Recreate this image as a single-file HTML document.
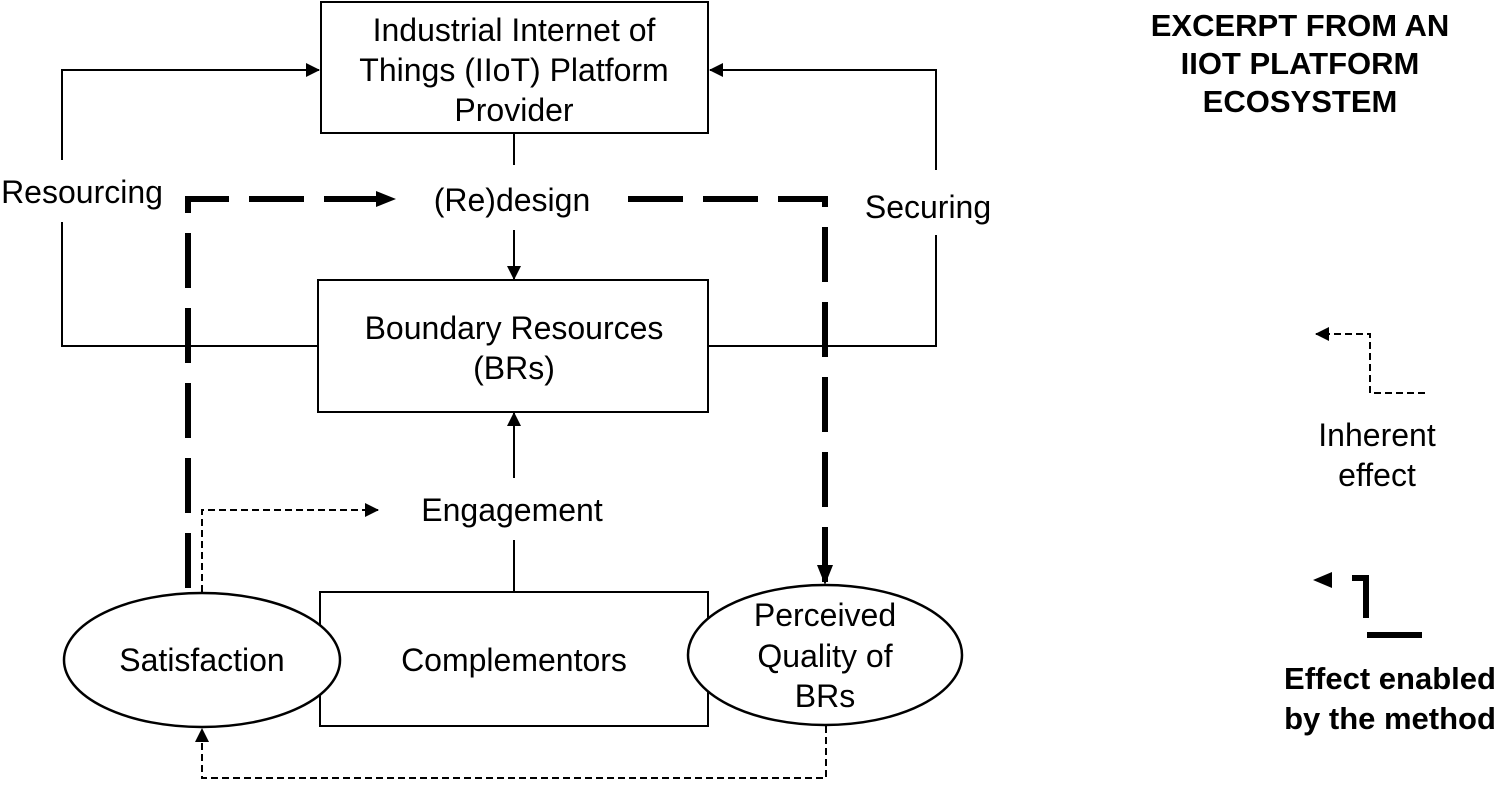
<!DOCTYPE html>
<html><head><meta charset="utf-8"><style>
body{margin:0;background:#fff;}
svg text{font-family:"Liberation Sans",Arial,sans-serif;fill:#000;}
</style></head><body>
<svg width="1500" height="782" viewBox="0 0 1500 782" xmlns="http://www.w3.org/2000/svg">
<defs>
<marker id="a" markerWidth="10" markerHeight="10" refX="9" refY="5" orient="auto" markerUnits="userSpaceOnUse"><path d="M0,0 L10,5 L0,10 z" fill="#000"/></marker>
<marker id="b" markerWidth="20" markerHeight="16" refX="19" refY="8" orient="auto" markerUnits="userSpaceOnUse"><path d="M0,0 L20,8 L0,16 z" fill="#000"/></marker>
<marker id="c" markerWidth="14" markerHeight="14" refX="13" refY="7" orient="auto" markerUnits="userSpaceOnUse"><path d="M0,0 L14,7 L0,14 z" fill="#000"/></marker>
</defs>
<g fill="none" stroke="#000" stroke-width="2">
<rect x="321" y="2" width="387" height="131" fill="#fff"/>
<rect x="318" y="280" width="390" height="132"/>
<rect x="320" y="592" width="388" height="134"/>
<polyline points="318,346 62,346 62,222"/>
<polyline points="62,160 62,70 319,70" marker-end="url(#c)"/>
<polyline points="708,346 936,346 936,235"/>
<polyline points="936,170 936,70 710,70" marker-end="url(#c)"/>
<line x1="514" y1="133" x2="514" y2="165"/>
<line x1="514" y1="230" x2="514" y2="279" marker-end="url(#c)"/>
<line x1="514" y1="592" x2="514" y2="540"/>
<line x1="514" y1="478" x2="514" y2="413" marker-end="url(#c)"/>
</g>
<g fill="none" stroke="#000" stroke-width="6" stroke-dasharray="55,20">
<polyline points="188,588 188,199 395,199" marker-end="url(#b)"/>
<polyline points="628,199 825,199 825,584" marker-end="url(#b)"/>
</g>
<g fill="none" stroke="#000" stroke-width="2" stroke-dasharray="7,4">
<polyline points="202,592 202,510 378,510" marker-end="url(#c)"/>
<polyline points="826,726 826,778 202,778 202,729" marker-end="url(#c)"/>
<polyline points="1425,393 1370,393 1370,334 1316,334" marker-end="url(#c)"/>
</g>
<ellipse cx="202" cy="660" rx="138" ry="67" fill="#fff" stroke="#000" stroke-width="2.5"/>
<ellipse cx="825" cy="655" rx="137" ry="70" fill="#fff" stroke="#000" stroke-width="2.5"/>
<path d="M1313,580 L1332,572 L1332,588 z" fill="#000"/>
<polyline points="1352,578 1366,578 1366,618" fill="none" stroke="#000" stroke-width="6"/>
<line x1="1367" y1="635" x2="1422" y2="635" stroke="#000" stroke-width="6"/>
<g font-size="32" text-anchor="middle">
<text x="514" y="41">Industrial Internet of</text>
<text x="514" y="81">Things (IIoT) Platform</text>
<text x="514" y="121">Provider</text>
<text x="82" y="203">Resourcing</text>
<text x="512" y="211">(Re)design</text>
<text x="928" y="218">Securing</text>
<text x="514" y="339">Boundary Resources</text>
<text x="514" y="379">(BRs)</text>
<text x="512" y="521">Engagement</text>
<text x="202" y="671">Satisfaction</text>
<text x="514" y="671">Complementors</text>
<text x="825" y="626">Perceived</text>
<text x="825" y="667">Quality of</text>
<text x="825" y="707">BRs</text>
<text x="1377" y="446">Inherent</text>
<text x="1377" y="486">effect</text>
</g>
<g font-size="31" font-weight="bold" text-anchor="middle">
<text x="1300" y="36">EXCERPT FROM AN</text>
<text x="1300" y="74">IIOT PLATFORM</text>
<text x="1300" y="112">ECOSYSTEM</text>
<text x="1390" y="689">Effect enabled</text>
<text x="1390" y="729">by the method</text>
</g>
</svg>
</body></html>
